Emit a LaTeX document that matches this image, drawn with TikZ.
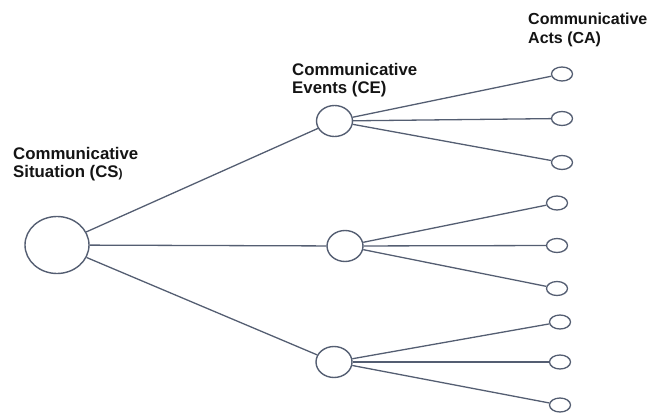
\documentclass[tikz,border=0pt]{standalone}
\usepackage{fontspec}
\setmainfont{Liberation Sans}
\usetikzlibrary{shapes.geometric}
\definecolor{edgegray}{RGB}{84,94,114}
\definecolor{labelink}{RGB}{20,20,20}
\begin{document}
\begin{tikzpicture}[x=1pt,y=-1pt,
  situation/.style={ellipse,draw=edgegray,line width=1.4pt,minimum width=64pt,minimum height=57pt,inner sep=0pt},
  event/.style={ellipse,draw=edgegray,line width=1.4pt,minimum width=36pt,minimum height=31pt,inner sep=0pt},
  act/.style={ellipse,draw=edgegray,line width=1.3pt,minimum width=21pt,minimum height=14pt,inner sep=0pt},
  link/.style={draw=edgegray,line width=1.3pt},
  heading/.style={anchor=north west,align=left,inner sep=0pt,text=labelink,
    font=\bfseries\fontsize{16.8}{18.6}\selectfont}]
  \useasboundingbox (0,0) rectangle (647,414);

  % levels of the tree
  \node[situation] (cs) at (57,245) {};
  \node[event] (ce1) at (334.5,121) {};
  \node[event] (ce2) at (345,246) {};
  \node[event] (ce3) at (334,362) {};

  \node[act] (ca11) at (562,74) {};
  \node[act] (ca12) at (562,118.5) {};
  \node[act] (ca13) at (562,162.5) {};
  \node[act] (ca21) at (557,203) {};
  \node[act] (ca22) at (557,245.5) {};
  \node[act] (ca23) at (557,288.5) {};
  \node[act] (ca31) at (560,322) {};
  \node[act] (ca32) at (560,362) {};
  \node[act] (ca33) at (560,405) {};

  % branches
  \foreach \e in {ce1,ce2,ce3} \draw[link] (cs) -- (\e);
  \foreach \a in {ca11,ca12,ca13} \draw[link] (ce1) -- (\a);
  \foreach \a in {ca21,ca22,ca23} \draw[link] (ce2) -- (\a);
  \foreach \a in {ca31,ca32,ca33} \draw[link] (ce3) -- (\a);

  % level headings
  \node[heading] (lcs) at (13,147) {Communicative\\Situation (CS{\fontsize{12}{12}\selectfont )}};
  \node[heading] (lce) at (292,63) {Communicative\\Events (CE)};
  \node[heading,font=\bfseries\fontsize{16}{18.6}\selectfont] (lca) at (528,13) {Communicative\\Acts (CA)};
\end{tikzpicture}
\end{document}
